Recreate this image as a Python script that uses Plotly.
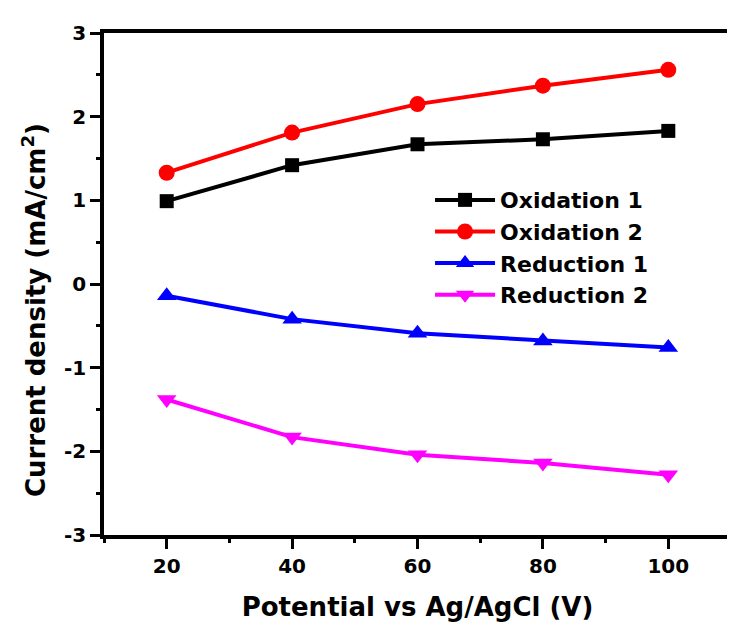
import plotly.graph_objects as go

potential = [20, 40, 60, 80, 100]
oxidation1 = [0.99, 1.42, 1.67, 1.73, 1.83]
oxidation2 = [1.33, 1.81, 2.15, 2.37, 2.56]
reduction1 = [-0.14, -0.42, -0.59, -0.68, -0.76]
reduction2 = [-1.38, -1.83, -2.04, -2.14, -2.28]

x_tick_vals = [20, 40, 60, 80, 100]
x_tick_text = ["20", "40", "60", "80", "100"]
y_tick_vals = [-3, -2, -1, 0, 1, 2, 3]
y_tick_text = ["-3", "-2", "-1", "0", "1", "2", "3"]

series = [
    ("Oxidation 1", oxidation1, "#000000", "square", 14),
    ("Oxidation 2", oxidation2, "#ff0000", "circle", 16),
    ("Reduction 1", reduction1, "#0000ff", "triangle-up", 17),
    ("Reduction 2", reduction2, "#ff00ff", "triangle-down", 17),
]

FONT = "DejaVu Sans"

fig = go.Figure()
for name, vals, col, sym, sz in series:
    fig.add_trace(go.Scatter(
        x=potential, y=vals, name=name, mode="lines+markers",
        line=dict(color=col, width=4),
        marker=dict(symbol=sym, size=sz, color=col),
    ))

axis_common = dict(
    showline=True, linecolor="black", linewidth=3.5, mirror=True,
    ticks="outside", ticklen=10, tickwidth=3, tickcolor="black",
    showgrid=False, zeroline=False,
    tickfont=dict(family=FONT, size=20, color="black", weight="bold"),
)

fig.update_xaxes(
    range=[10, 110], tickmode="array", tickvals=x_tick_vals, ticktext=x_tick_text,
    minor=dict(tick0=0, dtick=10, ticks="outside", ticklen=4, tickwidth=3, tickcolor="black"),
    title=dict(text="Potential vs Ag/AgCl (V)", standoff=26,
               font=dict(family=FONT, size=26, color="black", weight="bold")),
    **axis_common,
)
fig.update_yaxes(
    range=[-3, 3], tickmode="array", tickvals=y_tick_vals, ticktext=y_tick_text,
    minor=dict(tick0=0, dtick=0.5, ticks="outside", ticklen=4, tickwidth=3, tickcolor="black"),
    **axis_common,
)

fig.add_annotation(
    text="Current density (mA/cm<sup>2</sup>)", textangle=-90,
    xref="paper", yref="paper", x=0, y=0.448, xshift=-70,
    xanchor="center", yanchor="middle", showarrow=False,
    font=dict(family=FONT, size=26, color="black", weight="bold"),
)

fig.update_layout(
    width=727, height=614,
    margin=dict(l=96, r=0, t=25, b=87),
    paper_bgcolor="white", plot_bgcolor="white",
    showlegend=True,
    legend=dict(
        x=0.520, y=0.709, xanchor="left", yanchor="top",
        bgcolor="rgba(0,0,0,0)", borderwidth=0,
        font=dict(family=FONT, size=22, color="black", weight="bold"),
        itemwidth=60, tracegroupgap=0,
    ),
)

fig.write_html("out.html")
